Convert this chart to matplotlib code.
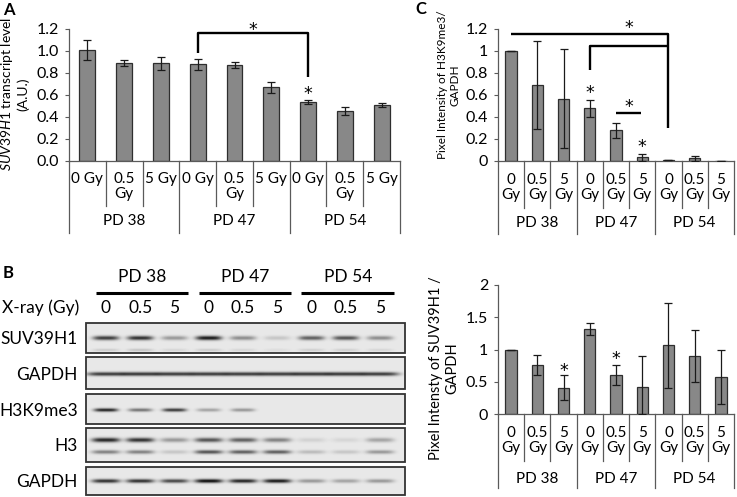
import numpy as np
import matplotlib
matplotlib.use("Agg")
import matplotlib.pyplot as plt
from matplotlib.patches import Rectangle
from matplotlib.transforms import offset_copy

plt.rcParams['font.family'] = ['Lato', 'DejaVu Sans']
plt.rcParams['mathtext.fontset'] = 'custom'
plt.rcParams['mathtext.it'] = 'Lato:italic'
plt.rcParams['mathtext.rm'] = 'Lato'

# ---- data ----
groups = ['PD 38', 'PD 47', 'PD 54']

# A: SUV39H1 transcript level (qPCR)
a_vals = [1.01, 0.89, 0.885, 0.875, 0.87, 0.667, 0.536, 0.455, 0.505]
a_errs = [0.09, 0.03, 0.06, 0.05, 0.03, 0.05, 0.02, 0.035, 0.02]

# C top: H3K9me3 / GAPDH
c1_vals = [1.0, 0.687, 0.565, 0.476, 0.275, 0.03, 0.006, 0.021, 0.0]
c1_errs = [0.0, 0.40, 0.447, 0.076, 0.072, 0.03, 0.003, 0.022, 0.0]

# C bottom: SUV39H1 / GAPDH
c2_vals = [1.0, 0.762, 0.408, 1.313, 0.60, 0.419, 1.065, 0.90, 0.579]
c2_errs = [0.0, 0.153, 0.19, 0.095, 0.153, 0.485, 0.66, 0.40, 0.42]

# significance marks: star centres and bracket polylines (data units)
a_stars = [(4.5, 1.23), (6, 0.65)]
a_brackets = [[(3, 0.975), (3, 1.16), (6, 1.16), (6, 0.76)]]
c1_stars = [(4.5, 1.25), (3, 0.664), (4.5, 0.536), (5, 0.173)]
c1_brackets = [[(0, 1.155), (6, 1.155), (6, 0.30)],
               [(3, 0.825), (3, 1.045), (6, 1.045)],
               [(4.0, 0.437), (4.95, 0.437)]]
c2_stars = [(2, 0.75), (4, 0.93)]

# B: western blot band darkness per lane
lane_labels = ['0', '0.5', '5'] * 3
blot_names = ['SUV39H1', 'GAPDH', 'H3K9me3', 'H3', 'GAPDH']
suv_band = [0.75, 0.8, 0.35, 0.9, 0.4, 0.15, 0.6, 0.65, 0.4]
suv_faint = [0.12, 0.15, 0.08, 0.12, 0.08, 0.05, 0.1, 0.1, 0.08]
gapdh1_band = [0.75, 0.77, 0.75, 0.75, 0.75, 0.75, 0.77, 0.77, 0.75]
h3k9_band = [0.85, 0.5, 0.75, 0.3, 0.35, 0.0, 0.0, 0.0, 0.0]
h3_upper = [0.85, 0.8, 0.35, 0.65, 0.6, 0.45, 0.1, 0.08, 0.3]
h3_lower = [0.45, 0.45, 0.15, 0.65, 0.6, 0.6, 0.2, 0.15, 0.35]
gapdh2_band = [0.8, 0.8, 0.7, 0.95, 0.85, 0.9, 0.35, 0.3, 0.35]

W, H = 737, 497
fig = plt.figure(figsize=(W / 100, H / 100), dpi=100)
ov = fig.add_axes([0, 0, 1, 1])
ov.axis('off')

BAR = '#888888'
EDGE = '#2e2e2e'
LINE = '#5a5a5a'
STAR_FS = 12.5


def px_axes(l, t, r, b):
    ax = fig.add_axes([l / W, 1 - b / H, (r - l) / W, (b - t) / H])
    ax.set_facecolor('none')
    return ax


def bar_panel(ax, vals, errs, ymax, ticks, ticklabels, bottom, height,
              cat_labels, rows, fs=11):
    x = np.arange(9)
    vals = np.array(vals)
    errs = np.array(errs)
    ax.bar(x, vals, width=0.43, color=BAR, edgecolor=EDGE, linewidth=0.9, zorder=2)
    lower = np.minimum(errs, vals)
    ax.errorbar(x, vals, yerr=[lower, errs], fmt='none', ecolor='#1a1a1a',
                elinewidth=0.9, capsize=3, capthick=0.9, zorder=3)
    ax.set_xlim(-0.5, 8.5)
    ax.set_ylim(0, ymax)
    ax.set_yticks(ticks)
    ax.set_yticklabels(ticklabels, fontsize=11.5)
    ax.set_xticks([])
    for s in ['top', 'right']:
        ax.spines[s].set_visible(False)
    for s in ['left', 'bottom']:
        ax.spines[s].set_color(LINE)
        ax.spines[s].set_linewidth(0.9)
    ax.tick_params(axis='y', length=3, width=0.8, color=LINE, pad=4)

    tr = ax.get_xaxis_transform()

    def f(py):
        return (bottom - py) / height

    for k in range(10):
        end = rows['group_end'] if k % 3 == 0 else rows['sep_end']
        ax.plot([k - 0.5, k - 0.5], [0, f(end)], transform=tr, clip_on=False,
                color=LINE, lw=0.9)
    for i, lab in enumerate(cat_labels):
        ax.text(i, f(rows['cat_top']), lab, transform=tr, ha='center', va='top',
                fontsize=fs, linespacing=1.1)
    for g, name in enumerate(groups):
        ax.text(3 * g + 1, f(rows['pd']), name, transform=tr, ha='center',
                va='center', fontsize=fs)


def add_marks(ax, stars, brackets):
    for pts in brackets:
        xs, ys = zip(*pts)
        ax.plot(xs, ys, color='black', lw=1.7, solid_capstyle='butt', zorder=4,
                clip_on=False)
    # baseline shifted so that the glyph centre lands on the given point
    tr = offset_copy(ax.transData, fig=fig, y=-0.57 * STAR_FS, units='points')
    for sx, sy in stars:
        ax.text(sx, sy, '*', ha='center', va='baseline', fontsize=STAR_FS,
                family='DejaVu Sans', transform=tr, zorder=4)


# ---- panel A ----
axA = px_axes(69, 28.7, 400, 160.7)
bar_panel(axA, a_vals, a_errs, 1.2, np.arange(0, 1.21, 0.2),
          ['%.1f' % v for v in np.arange(0, 1.21, 0.2)], 160.7, 132,
          ['0 Gy', '0.5\nGy', '5 Gy'] * 3,
          dict(cat_top=172, sep_end=206, group_end=233, pd=221))
add_marks(axA, a_stars, a_brackets)

# ---- panel C top ----
axC1 = px_axes(498, 28.7, 734, 160.7)
bar_panel(axC1, c1_vals, c1_errs, 1.2, np.arange(0, 1.21, 0.2),
          ['0', '0.2', '0.4', '0.6', '0.8', '1', '1.2'], 160.7, 132,
          ['0\nGy', '0.5\nGy', '5\nGy'] * 3,
          dict(cat_top=173, sep_end=208, group_end=234, pd=223))
add_marks(axC1, c1_stars, c1_brackets)

# ---- panel C bottom ----
axC2 = px_axes(498, 285, 734, 414)
bar_panel(axC2, c2_vals, c2_errs, 2.0, [0, 0.5, 1, 1.5, 2],
          ['0', '0.5', '1', '1.5', '2'], 414, 129,
          ['0\nGy', '0.5\nGy', '5\nGy'] * 3,
          dict(cat_top=426, sep_end=461, group_end=488, pd=479))
add_marks(axC2, c2_stars, [])

# y labels
ov.text(14, 94, '$\\it{SUV39H1}$ transcript level\n(A.U.)', rotation=90,
        ha='center', va='center', fontsize=10, linespacing=1.2)
ov.text(449, 85, 'Pixel Intensity of H3K9me3/\nGAPDH', rotation=90,
        ha='center', va='center', fontsize=8.5, linespacing=1.2)
ov.text(444, 368, 'Pixel Intensty of SUV39H1 /\nGAPDH', rotation=90,
        ha='center', va='center', fontsize=10.5, linespacing=1.2)

# panel letters
ov.text(3, 10, 'A', fontsize=12, fontweight='bold', va='center')
ov.text(415, 9, 'C', fontsize=12, fontweight='bold', va='center')
ov.text(3, 273, 'B', fontsize=12, fontweight='bold', va='center')

# ---- panel B: blot ----
bl, br = 86, 405
lane_x = np.linspace(106, 380, 9)
rows_px = [(323, 353), (357, 389), (394, 424), (428, 462), (467, 495)]
row_bands = [
    [(338, 2.2, suv_band, 13), (350, 1.5, suv_faint, 13)],
    [(374, 2.0, gapdh1_band, 19)],
    [(410, 1.8, h3k9_band, 12)],
    [(440, 2.3, h3_upper, 14), (452, 2.0, h3_lower, 14)],
    [(481, 2.0, gapdh2_band, 14)],
]
label_y = [339, 375, 411, 446, 482]

for (top, bot), bands, name, ly in zip(rows_px, row_bands, blot_names, label_y):
    xs = np.arange(bl, br) + 0.5
    ys = np.arange(top, bot) + 0.5
    xx, yy = np.meshgrid(xs, ys)
    img = np.full(xx.shape, 0.91)
    for yc, sy, ints, hw in bands:
        for xc, a in zip(lane_x, ints):
            img -= 0.88 * a * np.exp(-((xx - xc) / hw) ** 4) * np.exp(-((yy - yc) / sy) ** 2)
    img = np.clip(img, 0.05, 1)
    ov.imshow(img, cmap='gray', vmin=0, vmax=1, extent=(bl, br, bot, top),
              aspect='auto', interpolation='bilinear', zorder=1)
    ov.add_patch(Rectangle((bl, top), br - bl, bot - top, fill=False,
                           edgecolor='#333333', lw=1.3, zorder=2))
    ov.text(78, ly, name, ha='right', va='center', fontsize=12.5)

# header of blot
for g, name in enumerate(groups):
    cx = lane_x[3 * g + 1]
    ov.text(cx + 2, 277, name, ha='center', va='center', fontsize=12.5)
    ov.plot([lane_x[3 * g] - 10, lane_x[3 * g + 2] + 14], [293, 293], color='black',
            lw=2.2, solid_capstyle='butt')
ov.text(2, 308, 'X-ray (Gy)', ha='left', va='center', fontsize=12.5)
for xc, lab in zip(lane_x, lane_labels):
    ov.text(xc, 308, lab, ha='center', va='center', fontsize=12.5)

ov.set_xlim(0, W)
ov.set_ylim(H, 0)

fig.savefig('out.png', dpi=100)
